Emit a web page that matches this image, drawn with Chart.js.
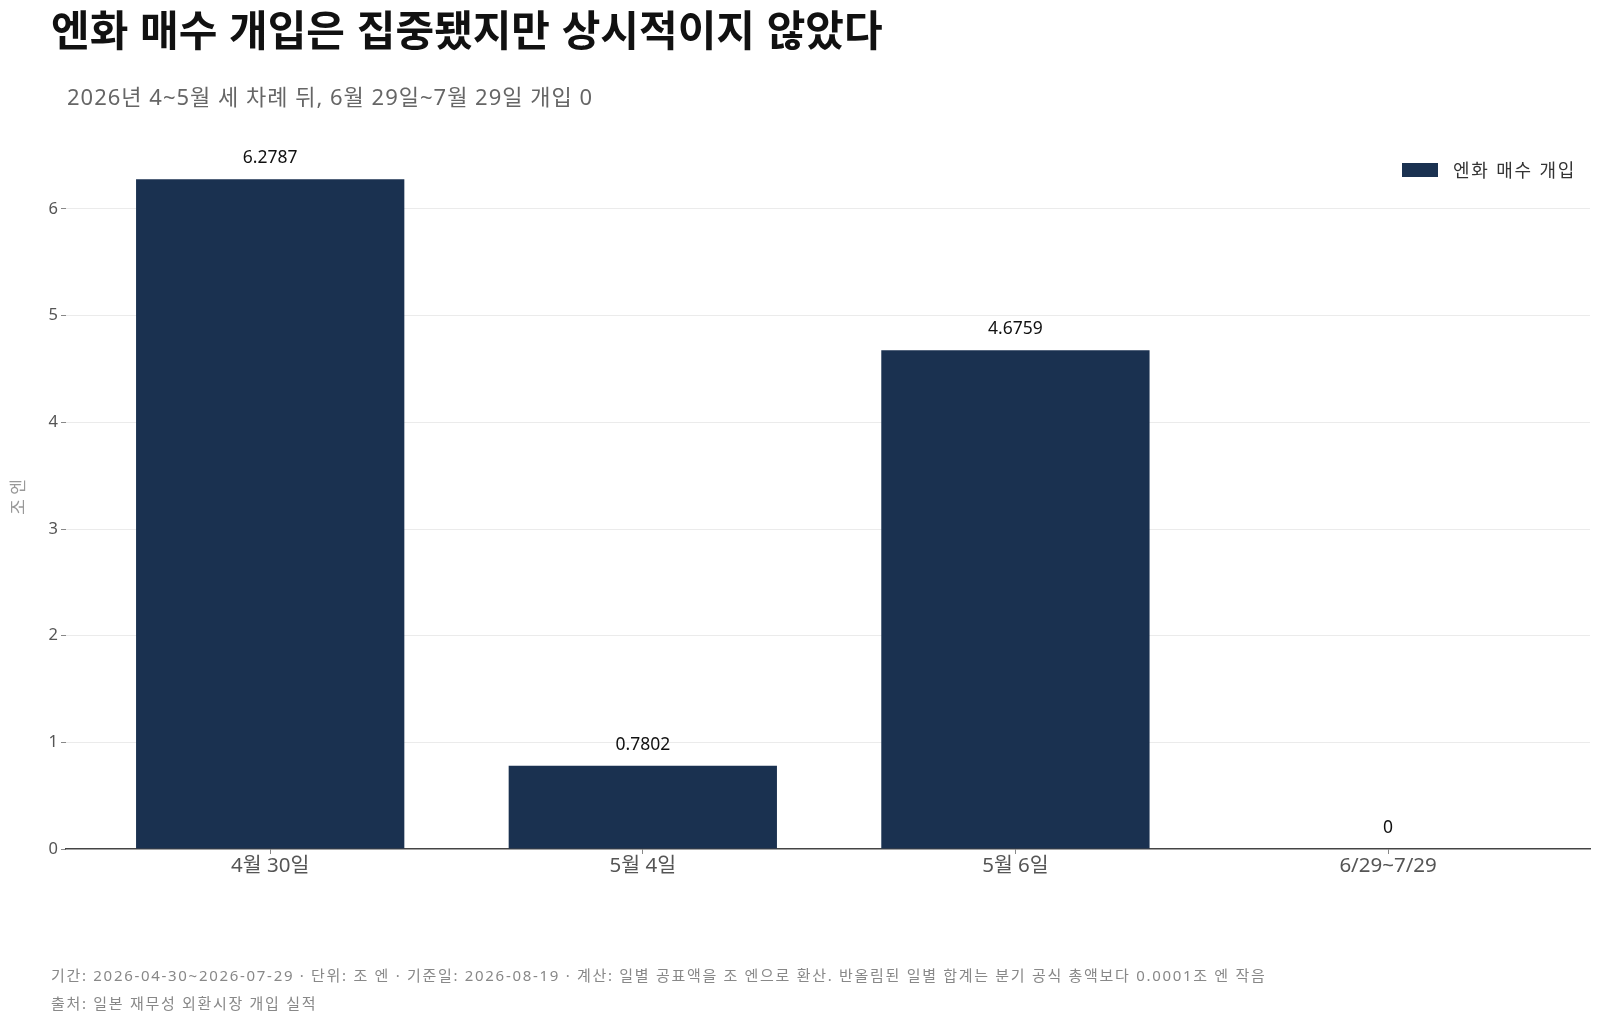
<!DOCTYPE html>
<html lang="ko">
<head>
<meta charset="utf-8">
<script src="https://cdn.jsdelivr.net/npm/chart.js@4.4.1/dist/chart.umd.min.js"></script>
<style>
  html, body { margin: 0; padding: 0; background: #fff; }
  body { width: 1600px; height: 1021px; position: relative; overflow: hidden;
         font-family: 'Noto Sans', 'Noto Sans CJK KR', sans-serif; }
  #title { position: absolute; left: 51px; top: 0px; font-size: 42px; line-height: 56px; font-weight: 700; color: #111; font-family: 'Noto Sans CJK KR', sans-serif; }
  #subtitle { position: absolute; left: 67px; top: 81px; font-size: 22px; line-height: 30px; letter-spacing: 1px; color: #666; }
  #legend { position: absolute; left: 1402px; top: 157px; font-size: 18px; line-height: 26px; letter-spacing: 1.8px; color: #333; display: flex; align-items: center; }
  #legend span.box { display: inline-block; width: 36px; height: 14px; background: #1a3150; margin-right: 15px; }
  .foot { position: absolute; left: 51px; font-size: 15px; line-height: 20px; letter-spacing: 1.7px; color: #888; }
  #wrap { position: absolute; left: 0; top: 0; width: 1600px; height: 1021px; }
</style>
</head>
<body>
<div id="wrap"><canvas id="chart"></canvas></div>
<div id="title">엔화 매수 개입은 집중됐지만 상시적이지 않았다</div>
<div id="subtitle">2026년 4~5월 세 차례 뒤, 6월 29일~7월 29일 개입 0</div>
<div id="legend"><span class="box"></span>엔화 매수 개입</div>
<div class="foot" style="top:965px">기간: 2026-04-30~2026-07-29 · 단위: 조 엔 · 기준일: 2026-08-19 · 계산: 일별 공표액을 조 엔으로 환산. 반올림된 일별 합계는 분기 공식 총액보다 0.0001조 엔 작음</div>
<div class="foot" style="top:993px">출처: 일본 재무성 외환시장 개입 실적</div>
<script>
// --- DATA ---
const categories = ['4월 30일', '5월 4일', '5월 6일', '6/29~7/29'];
const values = [6.2787, 0.7802, 4.6759, 0];
const valueLabels = ['6.2787', '0.7802', '4.6759', '0'];
const yTicks = [0, 1, 2, 3, 4, 5, 6];

const BAR = '#1a3150';
const FONT = '"Noto Sans", "Noto Sans CJK KR", sans-serif';

// value labels above bars
const barLabels = {
  id: 'barLabels',
  afterDatasetsDraw(chart) {
    const { ctx } = chart;
    const meta = chart.getDatasetMeta(0);
    ctx.save();
    ctx.font = '17.5px ' + FONT;
    ctx.fillStyle = '#111';
    ctx.textAlign = 'center';
    ctx.textBaseline = 'middle';
    meta.data.forEach((bar, i) => {
      ctx.fillText(valueLabels[i], bar.x, bar.y - 21);
    });
    ctx.restore();
  }
};

new Chart(document.getElementById('chart'), {
  type: 'bar',
  data: {
    datasets: [{
      label: '엔화 매수 개입',
      data: values.map((v, i) => ({ x: i, y: v })),
      backgroundColor: BAR,
      borderColor: BAR,
      borderWidth: 0,
      barPercentage: 0.72,
      categoryPercentage: 1
    }]
  },
  options: {
    responsive: true,
    maintainAspectRatio: false,
    animation: false,
    layout: { padding: { left: 0, top: 145, right: 10, bottom: 132 } },
    plugins: { legend: { display: false }, tooltip: { enabled: false } },
    scales: {
      x: {
        type: 'linear',
        offset: false,
        min: -0.548,
        max: 3.542,
        afterBuildTicks: s => { s.ticks = categories.map((c, i) => ({ value: i })); },
        afterFit: s => { s.height = 40; },
        ticks: {
          callback: v => categories[v],
          color: '#555',
          font: { size: 20.5, family: FONT },
          padding: 0,
          maxRotation: 0
        },
        grid: { offset: false, drawOnChartArea: false, drawTicks: true, tickLength: 5, tickColor: '#888' },
        border: { display: true, color: '#444', width: 1.5 }
      },
      y: {
        min: 0,
        max: 6.6,
        afterBuildTicks: s => { s.ticks = yTicks.map(v => ({ value: v })); },
        afterFit: s => { s.width = 66; },
        title: {
          display: true,
          text: '조 엔',
          color: '#999',
          font: { size: 17, family: FONT },
          padding: { top: 9, bottom: 0 }
        },
        ticks: {
          color: '#555',
          font: { size: 16.5, family: FONT },
          padding: 3
        },
        grid: {
          color: c => (c.tick && c.tick.value === 0 ? 'rgba(0,0,0,0)' : '#ebebeb'),
          tickColor: '#888',
          tickLength: 5,
          lineWidth: 1
        },
        border: { display: false }
      }
    }
  },
  plugins: [barLabels]
});
</script>
</body>
</html>
